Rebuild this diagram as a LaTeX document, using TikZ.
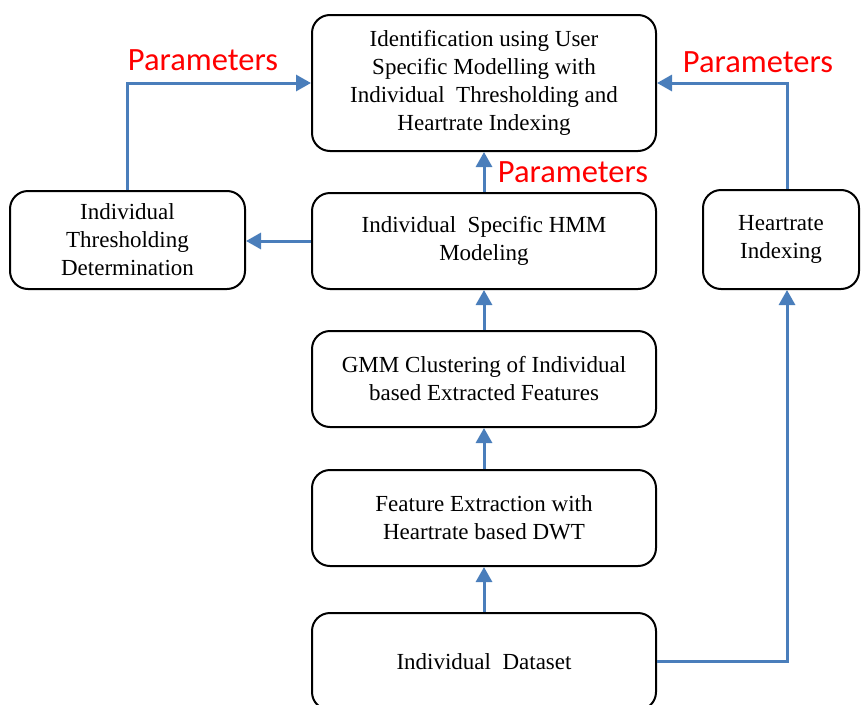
\documentclass[tikz,border=0pt]{standalone}
\usepackage{fontspec}
\setmainfont{Liberation Serif}
\newfontfamily\labelfont{Carlito}
\usetikzlibrary{arrows.meta}
\definecolor{flowblue}{HTML}{4A7EBB}
\definecolor{paramred}{HTML}{FF0000}
\begin{document}
\begin{tikzpicture}[x=1pt,y=-1pt,
  stage/.style={draw=black, line width=2pt, rounded corners=18pt, align=center,
    font=\fontsize{23}{28}\selectfont, inner sep=0pt},
  flow/.style={draw=flowblue, line width=3pt, -{Triangle[width=16pt,length=15pt]}},
  param/.style={text=paramred, font=\labelfont\fontsize{32.5}{38}\selectfont, inner sep=0pt}]
\useasboundingbox (0,0) rectangle (861,704);

% processing stages
\node[stage, minimum width=344pt, minimum height=136pt] (ident) at (484,83)
  {Identification using User\\Specific Modelling with\\Individual\ \ Thresholding and\\Heartrate Indexing};
\node[stage, minimum width=235pt, minimum height=98pt] (itd) at (127.5,240)
  {Individual\\Thresholding\\Determination};
\node[stage, minimum width=344pt, minimum height=96pt] (hmm) at (484,241)
  {Individual\ \ Specific HMM\\Modeling};
\node[stage, minimum width=156pt, minimum height=99pt] (hr) at (781,239.5)
  {Heartrate\\Indexing};
\node[stage, minimum width=344pt, minimum height=96pt] (gmm) at (484,379)
  {GMM Clustering of Individual\\based Extracted Features};
\node[stage, minimum width=344pt, minimum height=96pt] (fe) at (484,518)
  {Feature Extraction with\\Heartrate based DWT};
\node[stage, minimum width=344pt, minimum height=97pt] (ds) at (484,661.5)
  {Individual\ \ Dataset};

% data flow
\draw[flow] (ds.north) -- (fe.south);
\draw[flow] (fe.north) -- (gmm.south);
\draw[flow] (gmm.north) -- (hmm.south);
\draw[flow] (hmm.north) -- (ident.south);
\draw[flow] (hmm.west) -- (hmm.west -| itd.east);
\draw[flow] (itd.north) |- (ident.west);
\draw[flow] ([xshift=6pt]hr.north) |- (ident.east);
\draw[flow] (ds.east) -| ([xshift=6pt]hr.south);

% parameter labels
\node[param] (pleft) at (203,60) {Parameters};
\node[param] (pmid) at (573,172) {Parameters};
\node[param] (pright) at (758,62) {Parameters};
\end{tikzpicture}
\end{document}
